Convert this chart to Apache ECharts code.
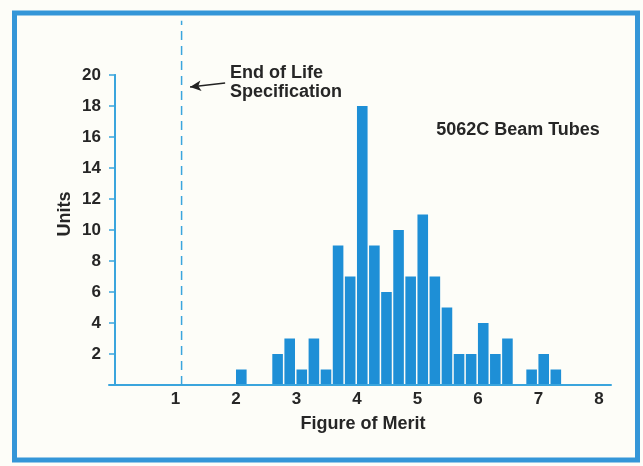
<!DOCTYPE html>
<html>
<head>
<meta charset="utf-8">
<script src="https://cdn.jsdelivr.net/npm/echarts@6/dist/echarts.min.js"></script>
<style>
html,body{margin:0;padding:0;background:#fdfdf8;}
#c{width:643px;height:466px;}
</style>
</head>
<body>
<div id="c"></div>
<script>
// Data
const binStarts = [2.0, 2.6, 2.8, 3.0, 3.2, 3.4, 3.6, 3.8, 4.0, 4.2, 4.4, 4.6, 4.8, 5.0, 5.2, 5.4, 5.6, 5.8, 6.0, 6.2, 6.4, 6.8, 7.0, 7.2];
const units     = [1,   2,   3,   1,   3,   1,   9,   7,   18,  9,   6,   10,  7,   11,  7,   5,   2,   2,   4,   2,   3,   1,   2,   1];
const binWidth = 0.2;
const xTickLabels = [1, 2, 3, 4, 5, 6, 7, 8];
const yTickLabels = [2, 4, 6, 8, 10, 12, 14, 16, 18, 20];
const endOfLifeSpec = 1.1;

const BLUE_BAR = '#1e8fd6';
const BLUE_AXIS = '#3aa5dd';
const TEXT = '#262626';
const FONT = 'Liberation Sans, Arial, sans-serif';

const chart = echarts.init(document.getElementById('c'), null, {renderer: 'canvas'});

const barData = binStarts.map((s, i) => [s, units[i], s + binWidth]);

chart.setOption({
  backgroundColor: '#fdfdf8',
  animation: false,
  grid: {left: 109, right: 32, top: 75, bottom: 81, containLabel: false},
  xAxis: {
    type: 'value', min: -0.1, max: 8.2,
    axisLine: {show: true, lineStyle: {color: BLUE_AXIS, width: 2}},
    axisTick: {show: false},
    splitLine: {show: false},
    axisLabel: {
      customValues: xTickLabels,
      margin: 6,
      color: TEXT, fontSize: 17, fontWeight: 'bold', fontFamily: FONT,
      formatter: v => String(Math.round(v))
    }
  },
  yAxis: [{
    type: 'value', min: 0, max: 20,
    axisLine: {show: true, lineStyle: {color: BLUE_AXIS, width: 2}},
    axisTick: {show: true, customValues: yTickLabels, length: 6, lineStyle: {color: BLUE_AXIS, width: 1.5}},
    splitLine: {show: false},
    axisLabel: {
      customValues: yTickLabels,
      margin: 8,
      color: TEXT, fontSize: 17, fontWeight: 'bold', fontFamily: FONT
    }
  }, {
    type: 'value', min: 0, max: 20, position: 'left',
    axisLine: {show: false},
    axisTick: {show: true, inside: true, customValues: yTickLabels, length: 7, lineStyle: {color: BLUE_AXIS, width: 1.5}},
    splitLine: {show: false},
    axisLabel: {show: false}
  }],
  series: [{
    type: 'custom',
    xAxisIndex: 0, yAxisIndex: 0,
    clip: false,
    data: barData,
    encode: {x: [0, 2], y: 1},
    renderItem: function (params, api) {
      const p0 = api.coord([api.value(0), api.value(1)]);
      const p1 = api.coord([api.value(2), 0]);
      return {
        type: 'rect',
        shape: {x: p0[0], y: p0[1], width: p1[0] - p0[0] - 1.5, height: p1[1] - p0[1] - 1},
        style: {fill: BLUE_BAR}
      };
    },
    markLine: {
      silent: true,
      animation: false,
      label: {show: false},
      data: [
        [{coord: [1.82, 19.48], symbol: 'none'}, {coord: [1.24, 19.23], symbol: 'arrow', symbolSize: [8, 11]}]
      ],
      lineStyle: {color: '#222', width: 1.6, type: 'solid'}
    }
  }, {
    type: 'custom',
    clip: false,
    data: [[endOfLifeSpec]],
    renderItem: function (params, api) {
      const a = api.coord([api.value(0), 0]);
      const b = api.coord([api.value(0), 23.5]);
      return {
        type: 'line',
        shape: {x1: a[0], y1: a[1], x2: b[0], y2: b[1]},
        style: {stroke: BLUE_AXIS, lineWidth: 1.5, lineDash: [9, 6]}
      };
    }
  }],
  graphic: [
    {type: 'rect', shape: {x: 14.5, y: 13, width: 623, height: 447}, style: {fill: 'none', stroke: '#3496d8', lineWidth: 5}, z: 100},
    {type: 'text', x: 65, y: 214, rotation: Math.PI / 2,
      style: {text: 'Units', fill: TEXT, font: 'bold 18px ' + FONT, textAlign: 'center', textVerticalAlign: 'middle'}},
    {type: 'text', x: 363, y: 424,
      style: {text: 'Figure of Merit', fill: TEXT, font: 'bold 18px ' + FONT, textAlign: 'center', textVerticalAlign: 'middle'}},
    {type: 'text', x: 518, y: 130,
      style: {text: '5062C Beam Tubes', fill: TEXT, font: 'bold 18px ' + FONT, textAlign: 'center', textVerticalAlign: 'middle'}},
    {type: 'text', x: 230, y: 83,
      style: {text: 'End of Life\nSpecification', fill: TEXT, font: 'bold 18px ' + FONT, lineHeight: 19, textAlign: 'left', textVerticalAlign: 'middle'}}
  ]
});
</script>
</body>
</html>
